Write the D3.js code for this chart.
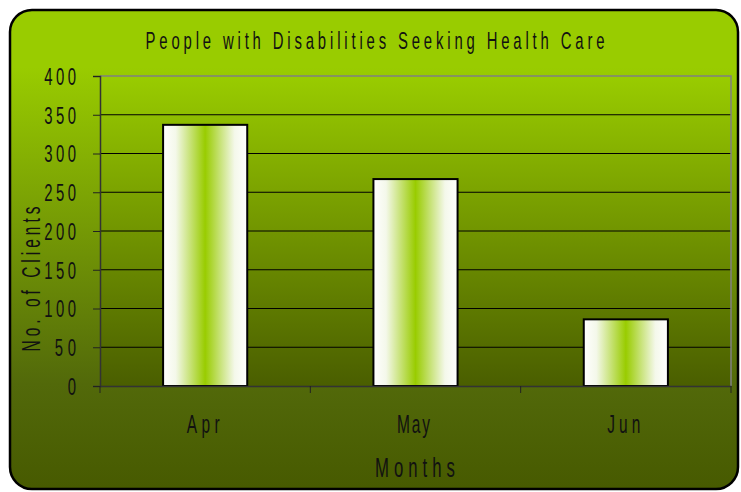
<!DOCTYPE html>
<html><head><meta charset="utf-8">
<script src="https://cdn.jsdelivr.net/npm/d3@7"></script>
<style>body{margin:0;background:#fff}svg{display:block}text{font-family:"Liberation Sans",Arial,sans-serif;fill:#111}</style>
</head><body>
<svg id="c" width="741" height="492"></svg>
<script>
const title = "People with Disabilities Seeking Health Care";
const categories = ["Apr", "May", "Jun"];
const values = [337, 267, 86];
const yTicks = [0, 50, 100, 150, 200, 250, 300, 350, 400];
const xTitle = "Months";
const yTitle = "No. of Clients";

const SX = 0.62;
const svg = d3.select("#c");
const defs = svg.append("defs");
const bg = defs.append("linearGradient").attr("id","bg").attr("x1",0).attr("y1",0).attr("x2",0).attr("y2",1);
bg.append("stop").attr("offset","0%").attr("stop-color","#99cc00");
bg.append("stop").attr("offset","12%").attr("stop-color","#99cc00");
bg.append("stop").attr("offset","78%").attr("stop-color","#52690a");
bg.append("stop").attr("offset","100%").attr("stop-color","#475a00");
const pg = defs.append("linearGradient").attr("id","pg").attr("x1",0).attr("y1",0).attr("x2",0).attr("y2",1);
pg.append("stop").attr("offset","0%").attr("stop-color","#99cc00");
pg.append("stop").attr("offset","100%").attr("stop-color","#4a5e00");
const bgBar = defs.append("linearGradient").attr("id","bar").attr("x1",0).attr("y1",0).attr("x2",1).attr("y2",0);
[["0%","#ffffff"],["15%","#f4f8ea"],["50%","#99cc00"],["85%","#f4f8ea"],["100%","#ffffff"]]
  .forEach(([o,c])=>bgBar.append("stop").attr("offset",o).attr("stop-color",c));

svg.append("rect").attr("x",10).attr("y",10).attr("width",728).attr("height",479)
  .attr("rx",22).attr("fill","url(#bg)").attr("stroke","#000").attr("stroke-width",2.5);

const L=100, R=731, T=76, B=386;
const x = d3.scaleBand().domain(categories).range([L,R]).paddingInner(0.6).paddingOuter(0.3);
const xb = d3.scaleBand().domain(categories).range([L,R]);
const y = d3.scaleLinear().domain([0,400]).range([B,T]);

svg.append("rect").attr("x",L).attr("y",T).attr("width",R-L).attr("height",B-T).attr("fill","url(#pg)");
svg.append("g").selectAll("line").data(yTicks.filter(d=>d>0 && d<400)).join("line")
  .attr("x1",L).attr("x2",R).attr("y1",d=>y(d)).attr("y2",d=>y(d)).attr("stroke","#000").attr("stroke-width",1);
svg.append("path").attr("d",`M${L},${T}H${R}V${B}`).attr("fill","none").attr("stroke","#808080").attr("stroke-width",1.5);

svg.append("g").selectAll("rect").data(values).join("rect")
  .attr("x",(d,i)=>x(categories[i])).attr("width",x.bandwidth())
  .attr("y",d=>y(d)).attr("height",d=>B-y(d))
  .attr("fill","url(#bar)").attr("stroke","#000").attr("stroke-width",2);

function ntext(parent, str, opt){
  const g = parent.append("g").attr("transform",`translate(${opt.x},${opt.y}) rotate(${opt.rot||0}) scale(${SX},1)`);
  const t = g.append("text").attr("text-anchor",opt.anchor||"middle").attr("font-size",opt.size)
    .attr("dy",opt.dy||0).text(str);
  if(opt.len) t.attr("textLength",opt.len/SX).attr("lengthAdjust","spacing");
  return t;
}

const ya = svg.append("g").attr("transform",`translate(${L},0)`)
  .call(d3.axisLeft(y).tickValues(yTicks).tickSize(7));
ya.select(".domain").attr("stroke","#333").attr("stroke-width",1.5);
ya.selectAll(".tick line").attr("stroke","#222");
ya.selectAll(".tick text").remove();
ya.selectAll(".tick").each(function(d){
  const s = String(d);
  ntext(d3.select(this), s, {x:-24, y:0, anchor:"end", size:24, dy:"0.35em", len: s.length*10.6});
});

const xa = svg.append("g").attr("transform",`translate(0,${B})`)
  .call(d3.axisBottom(xb).tickSize(0));
xa.select(".domain").attr("stroke","#333").attr("stroke-width",1.5);
xa.selectAll(".tick text").remove();
xa.selectAll(".tick").each(function(d){
  ntext(d3.select(this), d, {x:-2, y:47, anchor:"middle", size:25, len: d.length*11});
});
svg.append("g").selectAll("line").data([L, ...categories.map(c=>xb(c)+xb.bandwidth())]).join("line")
  .attr("x1",d=>d).attr("x2",d=>d).attr("y1",B).attr("y2",B+7).attr("stroke","#222");

ntext(svg, title, {x:375, y:49, size:24, len:459});
ntext(svg, xTitle, {x:415, y:477, size:27, len:80});
ntext(svg, yTitle, {x:40, y:279, rot:-90, size:25, len:145});
</script>
</body></html>
